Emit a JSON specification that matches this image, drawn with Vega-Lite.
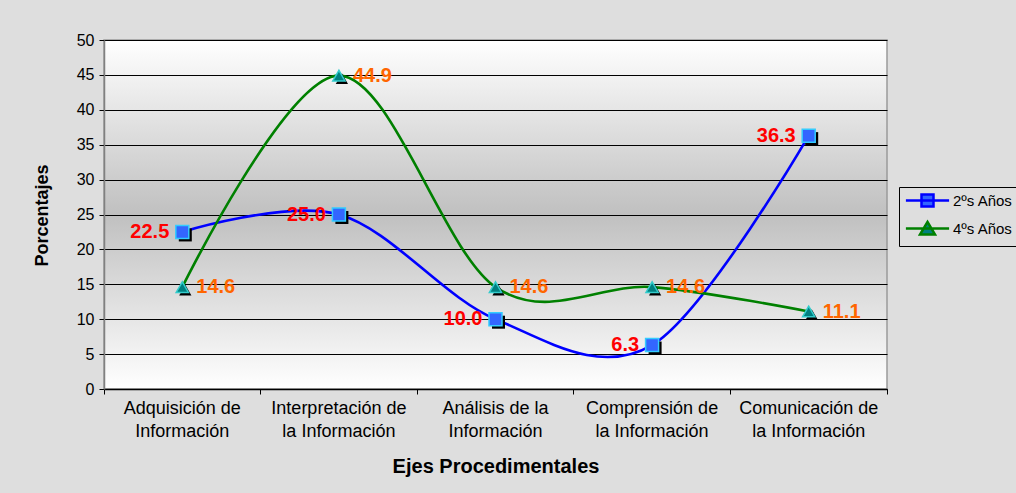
{
  "$schema": "https://vega.github.io/schema/vega-lite/v6.json",
  "width": 783,
  "height": 349,
  "autosize": {"type": "none"},
  "padding": {"left": 104, "top": 40, "right": 129, "bottom": 104},
  "background": "#dedede",
  "config": {
    "font": "Liberation Sans",
    "view": {
      "fill": {"gradient": "linear", "x1": 0, "y1": 0, "x2": 0, "y2": 1,
        "stops": [{"offset": 0, "color": "#ffffff"}, {"offset": 0.5, "color": "#c0c0c0"}, {"offset": 1, "color": "#ffffff"}]},
      "stroke": "#9a9a9a",
      "strokeWidth": 1.5
    }
  },
  "data": {
    "values": [
      {"eje": "Adquisición de\nInformación", "serie": "2ºs Años", "valor": 22.5},
      {"eje": "Interpretación de\nla Información", "serie": "2ºs Años", "valor": 25.0},
      {"eje": "Análisis de la\nInformación", "serie": "2ºs Años", "valor": 10.0},
      {"eje": "Comprensión de\nla Información", "serie": "2ºs Años", "valor": 6.3},
      {"eje": "Comunicación de\nla Información", "serie": "2ºs Años", "valor": 36.3},
      {"eje": "Adquisición de\nInformación", "serie": "4ºs Años", "valor": 14.6},
      {"eje": "Interpretación de\nla Información", "serie": "4ºs Años", "valor": 44.9},
      {"eje": "Análisis de la\nInformación", "serie": "4ºs Años", "valor": 14.6},
      {"eje": "Comprensión de\nla Información", "serie": "4ºs Años", "valor": 14.6},
      {"eje": "Comunicación de\nla Información", "serie": "4ºs Años", "valor": 11.1}
    ]
  },
  "encoding": {
    "x": {
      "field": "eje", "type": "nominal", "sort": null,
      "scale": {"type": "band", "paddingInner": 0, "paddingOuter": 0},
      "axis": {
        "title": "Ejes Procedimentales",
        "titleFontSize": 20, "titleFontWeight": "bold", "titleColor": "#000000",
        "titleY": 77, "titleBaseline": "middle",
        "labelExpr": "split(datum.label, '\\n')",
        "labelAngle": 0, "labelFontSize": 18, "labelColor": "#000000",
        "labelLineHeight": 23, "labelPadding": 5, "labelBaseline": "top",
        "domainColor": "#000000", "domainWidth": 1.5,
        "tickColor": "#000000", "tickSize": 5, "bandPosition": 1, "tickExtra": true,
        "grid": false
      }
    },
    "y": {
      "field": "valor", "type": "quantitative",
      "scale": {"domain": [0, 50], "nice": false},
      "axis": {
        "title": "Porcentajes",
        "titleFontSize": 18, "titleFontWeight": "bold", "titleColor": "#000000",
        "titleX": -62, "titleY": 175, "titleBaseline": "middle", "titleAlign": "center",
        "values": [0, 5, 10, 15, 20, 25, 30, 35, 40, 45, 50],
        "labelFontSize": 16, "labelColor": "#000000", "labelPadding": 5,
        "domainColor": "#808080", "domainWidth": 1.5,
        "tickColor": "#000000", "tickSize": 5,
        "grid": true, "gridColor": "#000000", "gridWidth": 1, "gridOpacity": 1
      }
    }
  },
  "layer": [
    {
      "mark": {"type": "line", "interpolate": "cardinal", "tension": 0, "strokeWidth": 2.6},
      "encoding": {
        "stroke": {
          "field": "serie", "type": "nominal",
          "scale": {"domain": ["2ºs Años", "4ºs Años"], "range": ["#0000ff", "#008000"]},
          "legend": {
            "title": null, "orient": "none", "legendX": 795, "legendY": 147,
            "strokeColor": "#000000", "padding": 6,
            "labelFontSize": 15, "labelColor": "#000000", "labelOffset": 18,
            "symbolSize": 144, "symbolStrokeWidth": 2.5, "symbolOffset": 15,
            "rowPadding": 4,
            "encode": {
              "symbols": {
                "update": {
                  "shape": {"signal": "datum.value === '2ºs Años' ? 'M-3.6,0H3.6M-1,-1H1V1H-1Z' : 'M-3.6,0H3.6M0,-1.1L1.25,1H-1.25Z'"},
                  "fill": {"signal": "datum.value === '2ºs Años' ? '#3366ff' : '#008080'"},
                  "fillOpacity": {"value": 1}
                }
              }
            }
          }
        }
      }
    },
    {
      "mark": {"type": "point", "filled": true, "opacity": 1, "xOffset": 3, "yOffset": 3, "fill": "#000000"},
      "encoding": {
        "shape": {"condition": {"test": "datum.serie === '2ºs Años'", "value": "square"}, "value": "triangle-up"},
        "size": {"condition": {"test": "datum.serie === '2ºs Años'", "value": 169}, "value": 150}
      }
    },
    {
      "mark": {"type": "point", "filled": true, "opacity": 1, "strokeWidth": 1.5, "strokeOpacity": 1},
      "encoding": {
        "shape": {"condition": {"test": "datum.serie === '2ºs Años'", "value": "square"}, "value": "triangle-up"},
        "size": {"condition": {"test": "datum.serie === '2ºs Años'", "value": 169}, "value": 150},
        "fill": {"condition": {"test": "datum.serie === '2ºs Años'", "value": "#3366ff"}, "value": "#008080"},
        "stroke": {"condition": {"test": "datum.serie === '2ºs Años'", "value": "#33ccff"}, "value": "#33cccc"}
      }
    },
    {
      "transform": [{"filter": "datum.serie === '2ºs Años'"}],
      "mark": {"type": "text", "align": "right", "baseline": "middle", "dx": -13, "fontSize": 20, "fontWeight": "bold", "color": "#ff0000"},
      "encoding": {"text": {"field": "valor", "type": "quantitative", "format": ".1f"}}
    },
    {
      "transform": [{"filter": "datum.serie === '4ºs Años'"}],
      "mark": {"type": "text", "align": "left", "baseline": "middle", "dx": 14, "fontSize": 20, "fontWeight": "bold", "color": "#ff6600"},
      "encoding": {"text": {"field": "valor", "type": "quantitative", "format": ".1f"}}
    }
  ]
}
